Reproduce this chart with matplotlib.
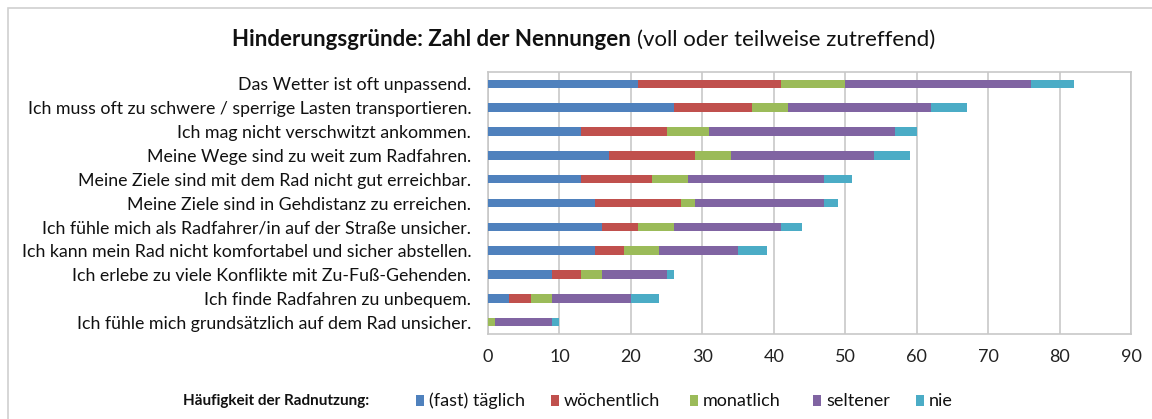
import matplotlib
matplotlib.use("Agg")
import matplotlib.pyplot as plt
from matplotlib.patches import Rectangle
import numpy as np

categories = [
    "Das Wetter ist oft unpassend.",
    "Ich muss oft zu schwere / sperrige Lasten transportieren.",
    "Ich mag nicht verschwitzt ankommen.",
    "Meine Wege sind zu weit zum Radfahren.",
    "Meine Ziele sind mit dem Rad nicht gut erreichbar.",
    "Meine Ziele sind in Gehdistanz zu erreichen.",
    "Ich fühle mich als Radfahrer/in auf der Straße unsicher.",
    "Ich kann mein Rad nicht komfortabel und sicher abstellen.",
    "Ich erlebe zu viele Konflikte mit Zu-Fuß-Gehenden.",
    "Ich finde Radfahren zu unbequem.",
    "Ich fühle mich grundsätzlich auf dem Rad unsicher.",
]
series_names = ["(fast) täglich", "wöchentlich", "monatlich", "seltener", "nie"]
taeglich    = [21, 26, 13, 17, 13, 15, 16, 15, 9, 3, 0]
woechentlich = [20, 11, 12, 12, 10, 12, 5, 4, 4, 3, 0]
monatlich   = [9, 5, 6, 5, 5, 2, 5, 5, 3, 3, 1]
seltener    = [26, 20, 26, 20, 19, 18, 15, 11, 9, 11, 8]
nie         = [6, 5, 3, 5, 4, 2, 3, 4, 1, 4, 1]
colors = ["#4F81BD", "#C0504D", "#9BBB59", "#8064A2", "#4BACC6"]
xticks = list(range(0, 91, 10))

FONT = "Lato"
W, H = 1152, 419
fig = plt.figure(figsize=(W / 100, H / 100), dpi=100)

# figure border
fig.patches.append(Rectangle((8 / W, -0.1), 1.2, (H - 8) / H + 0.1, transform=fig.transFigure,
                             fill=False, edgecolor="#d0d0d0", linewidth=1.2))

ax = fig.add_axes([488 / W, 1 - 334 / H, (1131 - 488) / W, (334 - 72) / H])
y = np.arange(len(categories))
left = np.zeros(len(categories))
data = [taeglich, woechentlich, monatlich, seltener, nie]
for vals, c, name in zip(data, colors, series_names):
    ax.barh(y, vals, left=left, height=0.36, color=c, label=name, zorder=3)
    left += np.array(vals)

ax.set_xlim(0, 90)
ax.set_ylim(len(categories) - 0.5, -0.5)
ax.set_xticks(xticks)
ax.set_xticklabels([str(t) for t in xticks], fontsize=13, family=FONT, color="#222222")
ax.set_yticks(y)
ax.set_yticklabels(categories, fontsize=12.8, family=FONT, color="#111111")
ax.tick_params(axis="both", length=0)
ax.tick_params(axis="y", pad=12)
ax.tick_params(axis="x", pad=11)
ax.grid(axis="x", color="#c8c8c8", linewidth=1.2, zorder=0)
for s in ax.spines.values():
    s.set_color("#c8c8c8")
    s.set_linewidth(1.2)

# title: bold part + regular part
t1 = fig.text(232 / W, 1 - 40 / H, "Hinderungsgründe: Zahl der Nennungen", fontsize=16,
              fontweight="bold", family=FONT, va="center", ha="left", color="#111111")
fig.canvas.draw()
bb = t1.get_window_extent()
fig.text(bb.x1 / W + 6 / W, 1 - 40 / H, "(voll oder teilweise zutreffend)", fontsize=16,
         family=FONT, va="center", ha="left", color="#111111")

# legend
fig.text(183 / W, 1 - 401 / H, "Häufigkeit der Radnutzung:", fontsize=11, fontweight="bold",
         family=FONT, va="center", ha="left", color="#111111")
leg_x = [416, 551, 690, 813, 916]
for lx, c, name in zip(leg_x, colors, series_names):
    fig.patches.append(Rectangle((lx / W, 1 - 406 / H), 8 / W, 11 / H, transform=fig.transFigure,
                                 facecolor=c, edgecolor="none"))
    fig.text((lx + 13) / W, 1 - 401 / H, name, fontsize=13, family=FONT, va="center",
             ha="left", color="#111111")

fig.savefig("out.png", dpi=100)
